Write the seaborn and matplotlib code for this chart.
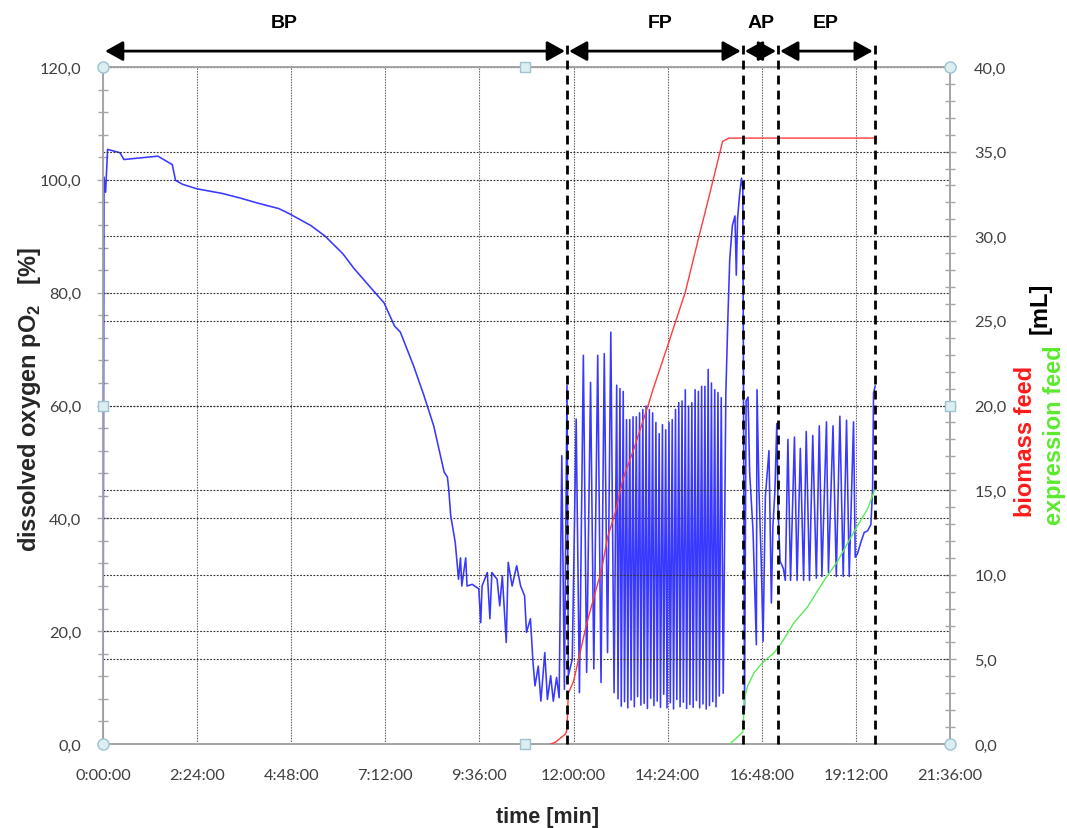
import matplotlib
matplotlib.use("Agg")
import numpy as np
import pandas as pd
import matplotlib.pyplot as plt
import matplotlib.ticker as mticker
import matplotlib.transforms as mtransforms
import seaborn as sns

# dissolved oxygen pO2 [%] vs time [min]
bp_t = [0, 1.5, 4, 7, 26, 32, 84, 106, 111, 122, 144, 182, 209, 236, 269, 285, 318, 340, 367, 384,
        411, 430, 446, 455, 475, 491, 506, 522, 527, 529, 532, 539, 544, 547, 549, 555, 557, 565, 575, 578,
        580, 588, 592, 595, 603, 607, 611, 617, 620, 626, 633, 639, 645, 648, 654, 658, 661, 666, 670, 676,
        680, 685, 689, 694, 698, 702, 706, 710]
bp_v = [0, 100.5, 97.8, 105.4, 104.8, 103.6, 104.2, 102.7, 99.9, 99.2, 98.4, 97.6, 96.8, 95.9, 94.9, 94.0, 91.9, 90.0, 86.9, 84.3,
        80.7, 78.2, 74.1, 73.0, 67.1, 61.8, 56.4, 48.2, 47.3, 45.2, 40.5, 35.7, 29.2, 33.0, 28.0, 33.0, 28.0, 28.3, 27.5, 21.5,
        28.0, 30.4, 22.2, 30.4, 29.2, 24.5, 29.8, 18.0, 32.2, 28.0, 31.6, 28.0, 26.3, 19.8, 22.2, 14.4, 10.3, 13.8, 7.6, 16.2,
        7.9, 12.1, 7.6, 11.8, 8.2, 51.1, 9.7, 63.6]

fp_t = [712, 718, 724, 729, 735, 740, 746, 751, 757, 762, 767, 772, 777, 782,
        786, 788, 791, 793, 796, 798, 801, 803, 806, 808, 811, 813, 816, 818, 821, 823, 826, 828, 831, 833,
        836, 838, 841, 843, 846, 848, 851, 853, 856, 858, 861, 863, 866, 868, 871, 873, 876, 878, 881, 883,
        886, 888, 891, 893, 896, 898, 901, 903, 906, 908, 911, 913, 916, 918, 921, 923, 926, 928, 931, 933,
        936, 938, 941, 943, 946, 949,
        953, 956, 959, 963, 967, 969, 971, 974, 977, 979]
fp_v = [12.1, 15.0, 57.6, 9.1, 68.9, 12.7, 64.1, 13.3, 68.9, 10.9, 69.2, 16.2, 73.0, 9.1,
        63.6, 8.0, 63.0, 6.7, 62.5, 7.5, 57.5, 6.4, 57.5, 7.8, 58.0, 6.6, 58.0, 8.4, 58.7, 6.9, 59.3, 7.2, 59.9, 6.3,
        59.3, 8.1, 58.7, 6.8, 57.0, 7.6, 55.0, 6.5, 56.6, 8.8, 55.7, 6.4, 57.0, 7.3, 57.5, 6.2, 59.3, 7.9, 60.5, 6.6,
        60.8, 7.4, 62.8, 6.3, 59.9, 7.0, 60.5, 6.5, 62.8, 7.7, 62.5, 6.4, 63.4, 7.1, 63.4, 6.2, 66.4, 6.8, 64.0, 7.5,
        62.8, 6.6, 62.3, 8.5, 61.4, 9.0,
        62.0, 75.0, 86.0, 91.9, 93.6, 83.1, 93.2, 97.3, 100.3, 98.6]

ap_t = [981.6, 984, 987, 989.5, 994.6, 999.7, 1000.7, 1003.8, 1007, 1010,
        1013.5, 1019, 1022.7, 1025, 1028, 1031, 1033, 1036, 1041, 1044,
        1048, 1052, 1058, 1062, 1067, 1072, 1076, 1081, 1086, 1091.5,
        1096, 1100, 1107, 1110, 1117, 1122, 1127.5, 1132.6, 1137.7, 1141.8,
        1148.4, 1151, 1154.6, 1159.7, 1164.8, 1170, 1175, 1177.6, 1179, 1181.6]
ap_v = [6.1, 60.8, 61.5, 48.0, 37.8, 17.6, 62.8, 44.6, 33.1, 18.2,
        43.9, 52.0, 25.0, 38.5, 44.6, 56.8, 41.2, 32.4, 31.1, 29.0,
        54.0, 29.0, 54.4, 29.0, 52.4, 29.0, 55.4, 29.0, 54.7, 29.4,
        56.4, 29.7, 57.1, 30.4, 56.4, 29.7, 58.1, 29.7, 57.4, 29.7,
        57.1, 33.1, 33.8, 35.8, 37.5, 37.8, 38.9, 45.3, 62.2, 63.5]

# feeds [mL]
biomass_t = [685, 692, 708, 710, 712, 720, 730, 740, 755, 763, 772, 784, 796, 812, 834, 842, 862, 891, 912, 927, 948, 958, 1183]
biomass_v = [0, 0.1, 0.6, 0.9, 3.0, 3.7, 5.4, 7.1, 9.2, 10.3, 12.2, 13.7, 15.7, 17.4, 20.0, 21.0, 23.3, 26.7, 30.0, 32.3, 35.6, 35.8, 35.8]

expr_t = [959, 979, 981.6, 986, 996, 1009, 1027, 1037, 1058, 1078, 1104, 1124, 1150, 1170, 1181.6]
expr_v = [0, 0.7, 2.7, 3.4, 4.2, 4.8, 5.4, 5.9, 7.2, 8.1, 9.7, 10.8, 12.6, 13.9, 15.1]

# process phases
phase_names = ["BP", "FP", "AP", "EP"]
phase_edges = [0, 710, 979, 1033, 1181]
phase_label_t = [278, 852, 1007, 1106]

do_df = pd.DataFrame({"time": bp_t + fp_t + ap_t, "pO2": bp_v + fp_v + ap_v})
bio_df = pd.DataFrame({"time": biomass_t, "feed": biomass_v})
expr_df = pd.DataFrame({"time": expr_t, "feed": expr_v})

sns.set_style("white")
plt.rcParams["font.family"] = ["Liberation Sans", "DejaVu Sans"]
plt.rcParams["mathtext.fontset"] = "custom"
plt.rcParams["mathtext.rm"] = "Liberation Sans"
plt.rcParams["mathtext.bf"] = "Liberation Sans:bold"

fig = plt.figure(figsize=(10.67, 8.29), dpi=100)
ax = fig.add_axes([103 / 1067, 84 / 829, 847 / 1067, 677 / 829])
ax2 = ax.twinx()

grey = "#A6A6A6"
tick_col = "#404040"

sns.lineplot(data=do_df, x="time", y="pO2", ax=ax, color="#3838FF", lw=1.15,
             sort=False, estimator=None, zorder=3)
sns.lineplot(data=bio_df, x="time", y="feed", ax=ax2, color="#FF3B3B", lw=1.0,
             sort=False, estimator=None, zorder=3)
sns.lineplot(data=expr_df, x="time", y="feed", ax=ax2, color="#5BEA5B", lw=1.0,
             sort=False, estimator=None, zorder=3)

ax.set_xlim(0, 1296)
ax.set_ylim(0, 120)
ax2.set_ylim(0, 40)
ax.set_xlabel("")
ax.set_ylabel("")
ax2.set_xlabel("")
ax2.set_ylabel("")

ax.xaxis.set_major_locator(mticker.MultipleLocator(144))
ax.xaxis.set_minor_locator(mticker.MultipleLocator(28.8))
ax.yaxis.set_major_locator(mticker.MultipleLocator(20))
ax.yaxis.set_minor_locator(mticker.MultipleLocator(4))
ax2.yaxis.set_major_locator(mticker.MultipleLocator(5))
ax2.yaxis.set_minor_locator(mticker.MultipleLocator(1))

ax.xaxis.set_major_formatter(mticker.FuncFormatter(
    lambda v, p: f"{int(round(v)) // 60}:{int(round(v)) % 60:02d}:00"))
comma = mticker.FuncFormatter(lambda v, p: f"{v:.1f}".replace(".", ","))
ax.yaxis.set_major_formatter(comma)
ax2.yaxis.set_major_formatter(comma)

for a in (ax, ax2):
    for s in a.spines.values():
        s.set_color(grey)
        s.set_linewidth(1.3)
    a.tick_params(which="both", direction="inout", color=grey, width=1.0,
                  labelcolor=tick_col, labelsize=11.8)
    a.tick_params(which="major", length=9)
    a.tick_params(which="minor", length=7)
    for lab in a.get_xticklabels() + a.get_yticklabels():
        lab.set_family("Lato")
ax.tick_params(axis="x", pad=13)
ax.tick_params(axis="y", pad=11)
ax2.tick_params(axis="y", pad=13)

# dotted grid
grid_kw = dict(color="#303030", lw=0.8, linestyle=(0, (1.6, 1.4)), zorder=1)
for t in ax.get_xticks()[1:-1]:
    ax.axvline(t, color="#555555", lw=0.8, linestyle=(0, (1.2, 1.2)), zorder=1)
for v in ax.get_yticks()[1:-1]:
    ax.axhline(v, **grid_kw)
for v in ax2.get_yticks()[1:-1]:
    ax2.axhline(v, **grid_kw)

# phase boundaries, arrows and labels above the plot
trans = mtransforms.blended_transform_factory(ax2.transData, ax2.transAxes)
for t in phase_edges[1:]:
    ax2.plot([t, t], [0, 1.037], transform=trans, color="black", lw=2.0,
             dashes=(3.2, 2.2), clip_on=False, zorder=6)
for name, t0, t1, tl in zip(phase_names, phase_edges[:-1], phase_edges[1:], phase_label_t):
    ax2.annotate("", xy=(t1, 1.0235), xytext=(t0, 1.0235), xycoords=trans, textcoords=trans,
                 arrowprops=dict(arrowstyle="<|-|>,head_length=0.45,head_width=0.25",
                                 mutation_scale=24, lw=2, color="black",
                                 shrinkA=1.5, shrinkB=1.5),
                 annotation_clip=False)
    ax2.text(tl, 1.065, name, transform=trans, ha="center", va="center",
             fontsize=14, fontweight="bold", color="black")

# chart handles on the frame
handle_kw = dict(transform=ax2.transAxes, clip_on=False, zorder=7, ls="none")
ax2.plot([0, 0, 1, 1], [0, 1, 0, 1], marker="o", ms=8, mfc="#DCEEF2", mec="#9EC3CE", mew=1, **handle_kw)
ax2.plot([0, 1, 0.498, 0.498], [0.5, 0.5, 0, 1], marker="s", ms=7, mfc="#DCEEF2", mec="#9EC3CE", mew=1, **handle_kw)

# axis titles
fig.text(30 / 1067, 1 - 400 / 829, r"dissolved oxygen pO$_\mathbf{2}$   [%]", rotation=90,
         ha="center", va="center", fontsize=17, fontweight="bold")
fig.text(548 / 1067, 1 - 818 / 829, "time [min]", ha="center", va="center",
         fontsize=15.5, fontweight="bold")
fig.text(1040 / 1067, 1 - 308 / 829, "[mL]", rotation=90, ha="center", va="center",
         fontsize=17, fontweight="bold", color="black")
fig.text(1025 / 1067, 1 - 441 / 829, "biomass feed", rotation=90, ha="center", va="center",
         fontsize=17, fontweight="bold", color="#FF1A1A")
fig.text(1054 / 1067, 1 - 435 / 829, "expression feed", rotation=90, ha="center", va="center",
         fontsize=17, fontweight="bold", color="#5BEA2E")

fig.savefig("out.png", dpi=100)
